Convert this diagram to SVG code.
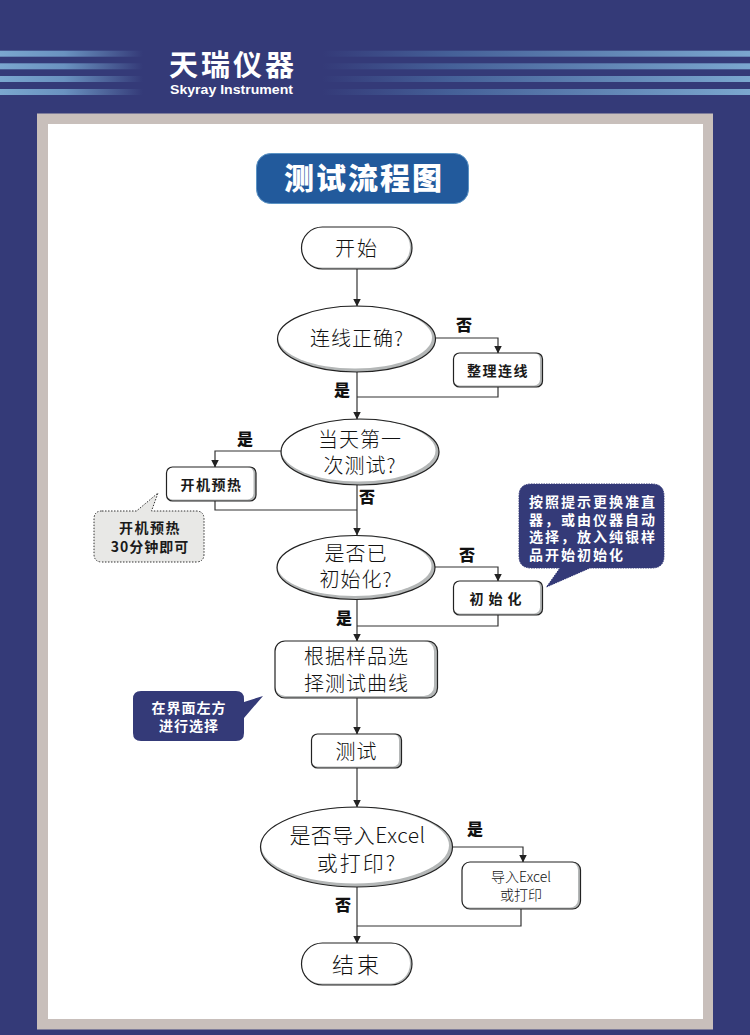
<svg xmlns="http://www.w3.org/2000/svg" width="750" height="1035" viewBox="0 0 750 1035">
<style>
text{font-family:"Noto Sans CJK SC","Liberation Sans",sans-serif;text-anchor:middle}
.o{fill:none;stroke:#222;stroke-width:1.2}
.s{fill:#b4b7b7}
.i{fill:#fff}
.t{fill:#111;font-size:20px;font-weight:300;letter-spacing:1px}
.b{fill:#1a1a1a;font-size:14px;font-weight:700;letter-spacing:1.500px}
.l{fill:#111;font-size:16px;font-weight:900}
.w{fill:#fff;font-size:14px;font-weight:700;letter-spacing:2px}
.c{fill:none;stroke:#333;stroke-width:1.200}
.a{fill:#222}
</style>
<defs>
<linearGradient id="fl" x1="0" x2="1" y1="0" y2="0"><stop offset="0" stop-color="#7ba7cf"/><stop offset="0.45" stop-color="#6a92c0"/><stop offset="1" stop-color="#343a78"/></linearGradient>
<linearGradient id="fr" x1="0" x2="1" y1="0" y2="0"><stop offset="0" stop-color="#343a78"/><stop offset="0.3" stop-color="#456098"/><stop offset="1" stop-color="#7ba7cf"/></linearGradient>
<marker id="ar" markerUnits="userSpaceOnUse" markerWidth="8" markerHeight="9" refX="7.500" refY="4" orient="auto"><path class="a" d="M0 0L8 4L0 8Z"/></marker>
</defs>
<rect width="750" height="1035" fill="#343a78"/>
<g id="banner">
<rect x="0" y="50.700" width="143" height="6" fill="url(#fl)"/><rect x="0" y="63.300" width="143" height="6" fill="url(#fl)"/><rect x="0" y="76" width="143" height="6" fill="url(#fl)"/><rect x="0" y="89" width="143" height="6" fill="url(#fl)"/>
<rect x="322" y="50.700" width="428" height="6" fill="url(#fr)"/><rect x="322" y="63.300" width="428" height="6" fill="url(#fr)"/><rect x="322" y="76" width="428" height="6" fill="url(#fr)"/><rect x="322" y="89" width="428" height="6" fill="url(#fr)"/>
<text x="233" y="76" fill="#fff" font-size="29" font-weight="700" letter-spacing="3">天瑞仪器</text>
<text x="231.500" y="94" fill="#fff" font-size="13.500" font-weight="700" textLength="123" lengthAdjust="spacingAndGlyphs" style="font-family:'Liberation Sans',sans-serif">Skyray Instrument</text>
</g>
<rect x="37" y="113.500" width="676" height="916" fill="#c8bfbb"/>
<rect x="48" y="124" width="655" height="895" fill="#fff"/>
<g id="title">
<rect x="256.500" y="153.500" width="212" height="50" rx="14" fill="#225a9c" stroke="#5b93c4"/>
<text x="364" y="189" fill="#fff" font-size="30" font-weight="900" letter-spacing="2">测试流程图</text>
</g>
<g id="connectors">
<path class="c" d="M357 269V306" marker-end="url(#ar)"/>
<path class="c" d="M435 338H498V353" marker-end="url(#ar)"/>
<path class="c" d="M498 387V397H357"/>
<path class="c" d="M357 372V419" marker-end="url(#ar)"/>
<path class="c" d="M281 451H215V467" marker-end="url(#ar)"/>
<path class="c" d="M215 501V510H357"/>
<path class="c" d="M357 485V535" marker-end="url(#ar)"/>
<path class="c" d="M435 567H498V581" marker-end="url(#ar)"/>
<path class="c" d="M498 615V626H357"/>
<path class="c" d="M357 599V641" marker-end="url(#ar)"/>
<path class="c" d="M357 698V734" marker-end="url(#ar)"/>
<path class="c" d="M357 768V807" marker-end="url(#ar)"/>
<path class="c" d="M453 847H523V862" marker-end="url(#ar)"/>
<path class="c" d="M521 909V926H357"/>
<path class="c" d="M357 887V943" marker-end="url(#ar)"/>
</g>
<g id="labels">
<text class="l" x="464" y="331">否</text>
<text class="l" x="342" y="396">是</text>
<text class="l" x="245" y="445">是</text>
<text class="l" x="367" y="503">否</text>
<text class="l" x="467" y="561">否</text>
<text class="l" x="344" y="624">是</text>
<text class="l" x="475" y="835">是</text>
<text class="l" x="343" y="911">否</text>
</g>
<g id="start">
<rect class="s" x="301.500" y="227" width="110.500" height="42" rx="21"/><rect class="i" x="301.500" y="227" width="108.500" height="40.500" rx="20"/><rect class="o" x="301.500" y="227" width="110.500" height="42" rx="21"/>
<text class="t" x="357" y="256" style="letter-spacing:2px">开始</text>
</g>
<g id="check-wiring">
<ellipse class="s" cx="356.500" cy="339" rx="79" ry="33"/><ellipse class="i" cx="355" cy="337.500" rx="77" ry="31"/><ellipse class="o" cx="356.500" cy="339" rx="79" ry="33"/>
<text class="t" x="357" y="346">连线正确?</text>
</g>
<g id="fix-wiring">
<rect class="s" x="453.500" y="353" width="89" height="34" rx="6"/><rect class="i" x="453.500" y="353" width="86.500" height="32.500" rx="6"/><rect class="o" x="453.500" y="353" width="89" height="34" rx="6"/>
<text class="b" x="498" y="376">整理连线</text>
</g>
<g id="first-test">
<ellipse class="s" cx="360" cy="452" rx="79" ry="33"/><ellipse class="i" cx="358.500" cy="450.500" rx="77" ry="31"/><ellipse class="o" cx="360" cy="452" rx="79" ry="33"/>
<text class="t" x="360" y="447">当天第一<tspan x="360" dy="26">次测试?</tspan></text>
</g>
<g id="warmup">
<rect class="s" x="166.500" y="467" width="89.500" height="34" rx="6"/><rect class="i" x="166.500" y="467" width="87" height="32.500" rx="6"/><rect class="o" x="166.500" y="467" width="89.500" height="34" rx="6"/>
<text class="b" x="211.500" y="490">开机预热</text>
</g>
<g id="warmup-note">
<path d="M102 511H136.500L158 493L151.500 511H196Q204 511 204 519V554Q204 562 196 562H102Q94 562 94 554V519Q94 511 102 511Z" fill="#e8e8e6" stroke="#333" stroke-width="1" stroke-dasharray="1.500 1.500"/>
<text class="b" x="150" y="533">开机预热<tspan x="150" dy="19" style="letter-spacing:1px">30分钟即可</tspan></text>
</g>
<g id="initialized">
<ellipse class="s" cx="356" cy="567.500" rx="79" ry="32"/><ellipse class="i" cx="354.500" cy="566" rx="77" ry="30"/><ellipse class="o" cx="356" cy="567.500" rx="79" ry="32"/>
<text class="t" x="356" y="561">是否已<tspan x="356" dy="26">初始化?</tspan></text>
</g>
<g id="initialize">
<rect class="s" x="453.500" y="581" width="89" height="34" rx="6"/><rect class="i" x="453.500" y="581" width="86.500" height="32.500" rx="6"/><rect class="o" x="453.500" y="581" width="89" height="34" rx="6"/>
<text class="b" x="498" y="604" style="letter-spacing:5px">初始化</text>
</g>
<g id="init-note">
<path d="M531 484H652Q664 484 664 496V556Q664 568 652 568H590L546.500 587L560 568H531Q519 568 519 556V496Q519 484 531 484Z" fill="#343a78" stroke="#343a78" stroke-dasharray="1.500 1"/>
<text class="w" x="529" y="507" style="text-anchor:start">按照提示更换准直<tspan x="529" dy="18">器，或由仪器自动</tspan><tspan x="529" dy="17">选择，放入纯银样</tspan><tspan x="529" dy="18">品开始初始化</tspan></text>
</g>
<g id="select-curve">
<rect class="s" x="275" y="641" width="162.500" height="57" rx="10"/><rect class="i" x="275" y="641" width="159" height="55" rx="10"/><rect class="o" x="275" y="641" width="162.500" height="57" rx="10"/>
<text class="t" x="356.500" y="664">根据样品选<tspan x="356.500" dy="27">择测试曲线</tspan></text>
</g>
<g id="select-note">
<path d="M141 691H236Q244 691 244 699V702L263 696L244 718V733Q244 741 236 741H141Q133 741 133 733V699Q133 691 141 691Z" fill="#343a78"/>
<text class="w" x="189" y="713" style="letter-spacing:1px">在界面左方<tspan x="189" dy="18">进行选择</tspan></text>
</g>
<g id="test">
<rect class="s" x="311.500" y="734" width="90" height="34" rx="6"/><rect class="i" x="311.500" y="734" width="87.500" height="32.500" rx="6"/><rect class="o" x="311.500" y="734" width="90" height="34" rx="6"/>
<text class="t" x="356.500" y="759">测试</text>
</g>
<g id="export-q">
<ellipse class="s" cx="356.500" cy="847" rx="96" ry="40"/><ellipse class="i" cx="355" cy="845.500" rx="94" ry="38"/><ellipse class="o" cx="356.500" cy="847" rx="96" ry="40"/>
<text class="t" x="357.500" y="843" style="font-size:21px;letter-spacing:.5px">是否导入Excel<tspan x="357" dy="28" style="letter-spacing:2px">或打印?</tspan></text>
</g>
<g id="export">
<rect class="s" x="462" y="862" width="118.500" height="47" rx="8"/><rect class="i" x="462" y="862" width="116" height="45.500" rx="8"/><rect class="o" x="462" y="862" width="118.500" height="47" rx="8"/>
<text class="t" x="521" y="882" style="font-size:14px;letter-spacing:0">导入Excel<tspan x="521" dy="18">或打印</tspan></text>
</g>
<g id="end">
<rect class="s" x="301.500" y="943" width="110.500" height="42" rx="21"/><rect class="i" x="301.500" y="943" width="108.500" height="40.500" rx="20"/><rect class="o" x="301.500" y="943" width="110.500" height="42" rx="21"/>
<text class="t" x="357" y="973" style="font-size:22px;letter-spacing:3px">结束</text>
</g>
</svg>
